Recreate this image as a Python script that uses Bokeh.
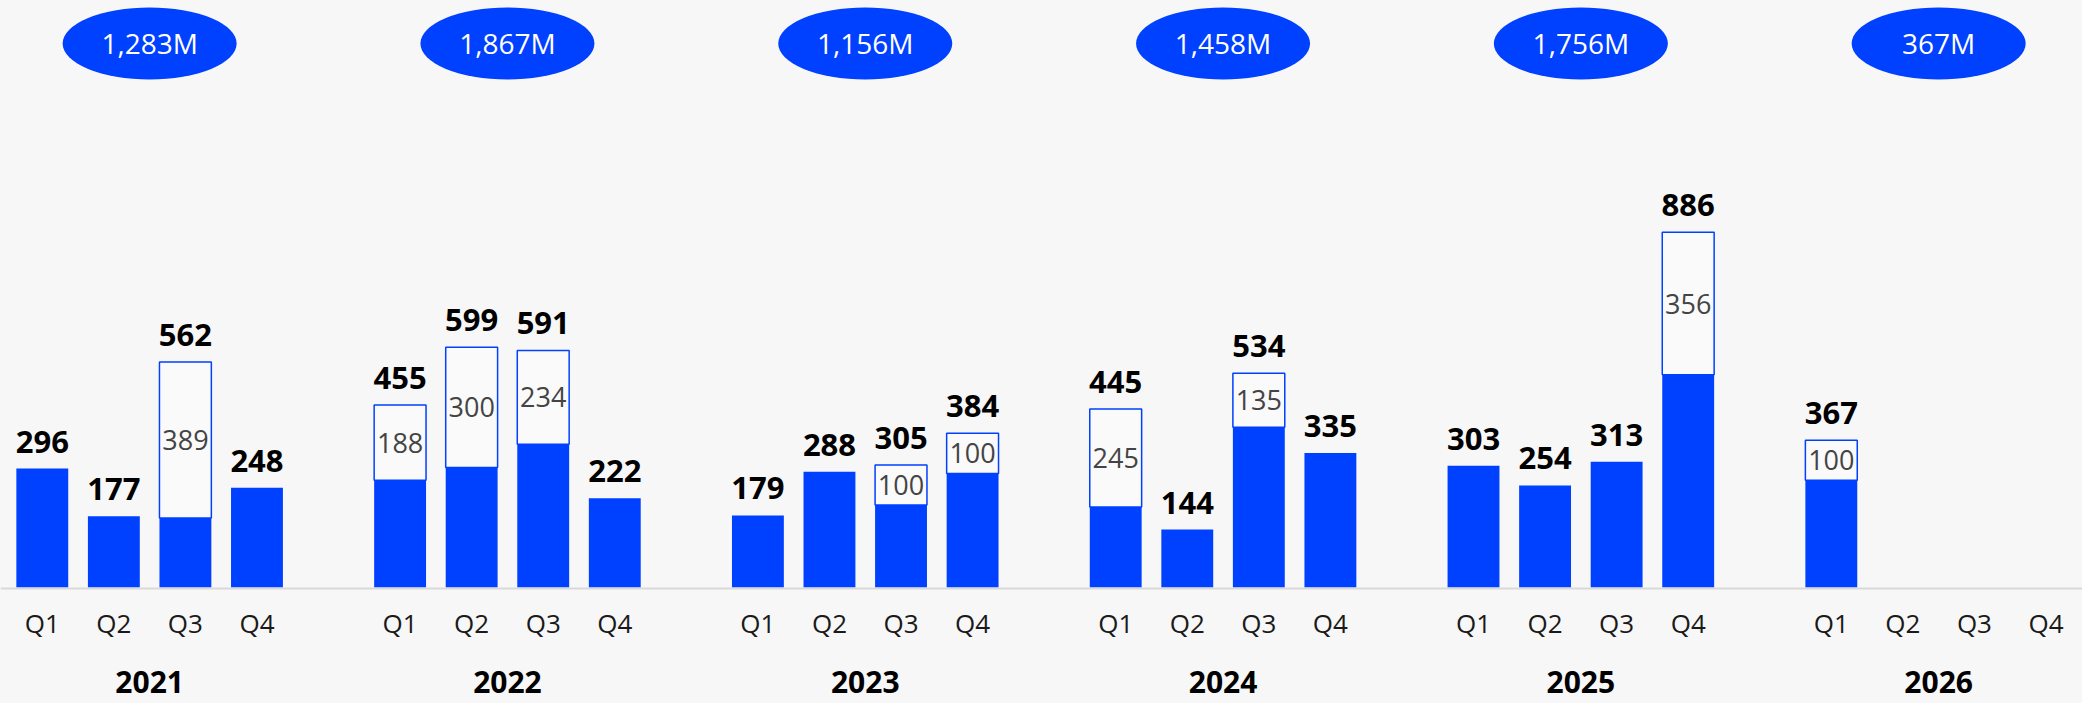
from bokeh.plotting import figure
from bokeh.models import ColumnDataSource, Range1d, Span
from bokeh.core.properties import value
from bokeh.embed import file_html
from bokeh.resources import INLINE

# ---------------- data ----------------
years = ["2021", "2022", "2023", "2024", "2025", "2026"]
quarters = ["Q1", "Q2", "Q3", "Q4"]
# quarterly totals (in chronological order, 2021 Q1 .. 2026 Q1)
totals = [296, 177, 562, 248,
          455, 599, 591, 222,
          179, 288, 305, 384,
          445, 144, 534, 335,
          303, 254, 313, 886,
          367]
# outlined (upper) part of each bar
extras = [0, 0, 389, 0,
          188, 300, 234, 0,
          0, 0, 100, 100,
          245, 0, 135, 0,
          0, 0, 0, 356,
          100]

# ---------------- styling ----------------
BLUE = "#0040ff"
BG = "#f7f7f7"
FONT = "Open Sans"
W, H = 2082, 703
SLOTS = 5  # 4 quarters + 1 gap per year

xs = [(i // 4) * SLOTS + (i % 4) for i in range(len(totals))]
base = [t - e for t, e in zip(totals, extras)]

solid = ColumnDataSource(dict(x=xs, top=base, total=totals,
                              lbl=[str(t) for t in totals]))
ox = [x for x, e in zip(xs, extras) if e > 0]
ob = [b for b, e in zip(base, extras) if e > 0]
ot = [t for t, e in zip(totals, extras) if e > 0]
oe = [e for e in extras if e > 0]
outl = ColumnDataSource(dict(x=ox, bottom=ob, top=ot,
                             mid=[b + e / 2 for b, e in zip(ob, oe)],
                             lbl=[str(e) for e in oe]))

qx = [yi * SLOTS + qi for yi in range(len(years)) for qi in range(4)]
ql = [q for _ in years for q in quarters]
qsrc = ColumnDataSource(dict(x=qx, y=[0] * len(qx), lbl=ql))

gx = [yi * SLOTS + 1.5 for yi in range(len(years))]
ysum = [sum(totals[yi * 4:(yi + 1) * 4]) for yi in range(len(years))]
ELL_Y = 1357
gsrc = ColumnDataSource(dict(x=gx, y=[0] * len(gx), yl=years,
                             ey=[ELL_Y] * len(gx),
                             el=[f"{s:,}M" for s in ysum]))

p = figure(width=W, height=H, output_backend="svg", toolbar_location=None,
           x_range=Range1d(-0.584, 28.51), y_range=Range1d(-290.2, 1464.2),
           min_border=0, outline_line_color=None)
p.axis.visible = False
p.grid.visible = False
p.background_fill_color = BG
p.border_fill_color = BG

p.add_layout(Span(location=-3, dimension="width", line_color="#d9d9d9",
                  line_width=2, level="underlay"))

p.vbar(x="x", bottom=0, top="top", width=0.725, source=solid,
       fill_color=BLUE, line_color=None)
p.vbar(x="x", bottom="bottom", top="top", width=0.725, source=outl,
       fill_color="#fafafa", line_color=BLUE, line_width=1.5)

p.text(x="x", y="total", text="lbl", source=solid, y_offset=-27,
       text_align="center", text_baseline="alphabetic",
       text_font=value(FONT), text_font_style="bold",
       text_font_size="31px", text_color="#000000")
p.text(x="x", y="mid", text="lbl", source=outl,
       text_align="center", text_baseline="middle",
       text_font=value(FONT), text_font_size="27px", text_color="#444444")

p.text(x="x", y="y", text="lbl", source=qsrc, y_offset=36,
       text_align="center", text_baseline="middle",
       text_font=value(FONT), text_font_size="26px", text_color="#1a1a1a")
p.text(x="x", y="y", text="yl", source=gsrc, y_offset=95,
       text_align="center", text_baseline="middle",
       text_font=value(FONT), text_font_style="bold",
       text_font_size="30px", text_color="#000000")

p.ellipse(x="x", y="ey", width=174, height=72, width_units="screen",
          height_units="screen", source=gsrc, fill_color=BLUE, line_color=None)
p.text(x="x", y="ey", text="el", source=gsrc,
       text_align="center", text_baseline="middle",
       text_font=value(FONT), text_font_size="28px", text_color="#ffffff")

html = file_html(p, INLINE)
html = html.replace("<head>", "<head><style>body{background:#f7f7f7;}</style>", 1)
open("out.html", "w").write(html)
